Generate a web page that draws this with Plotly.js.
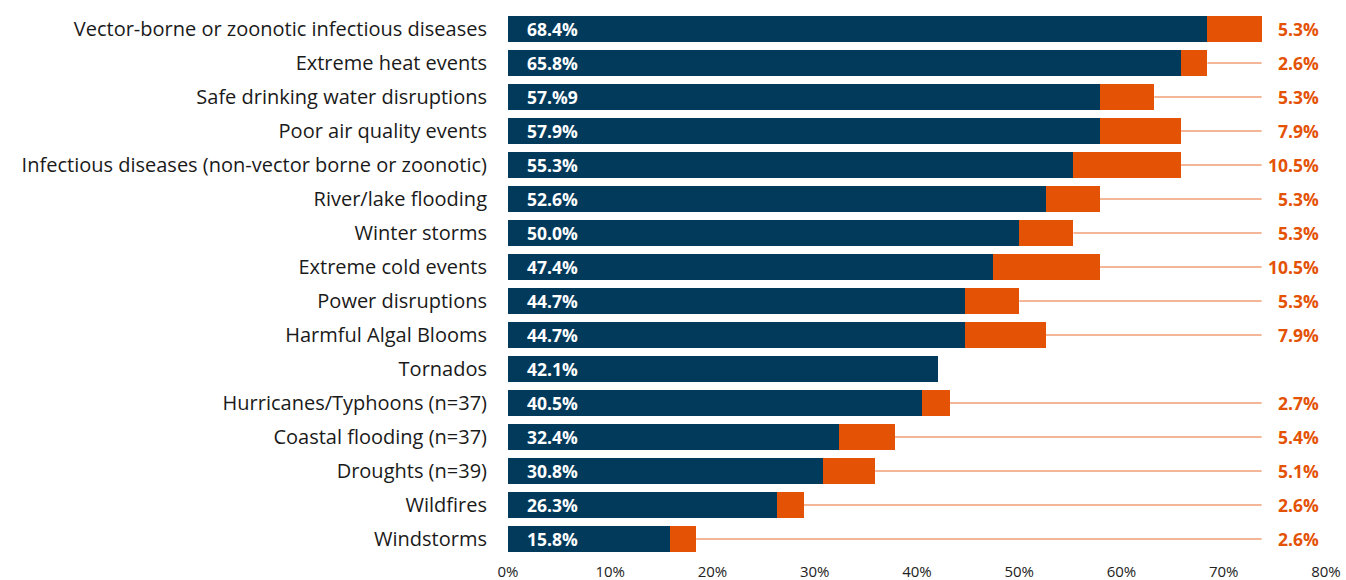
<!DOCTYPE html>
<html>
<head>
<meta charset="utf-8">
<script src="https://cdn.plot.ly/plotly-3.0.1.min.js"></script>
<style>html,body{margin:0;padding:0;background:#fff;}#chart{width:1346px;height:580px;}</style>
</head>
<body>
<div id="chart"></div>
<script>
const categories = [
  "Vector-borne or zoonotic infectious diseases",
  "Extreme heat events",
  "Safe drinking water disruptions",
  "Poor air quality events",
  "Infectious diseases (non-vector borne or zoonotic)",
  "River/lake flooding",
  "Winter storms",
  "Extreme cold events",
  "Power disruptions",
  "Harmful Algal Blooms",
  "Tornados",
  "Hurricanes/Typhoons (n=37)",
  "Coastal flooding (n=37)",
  "Droughts (n=39)",
  "Wildfires",
  "Windstorms"
];
const navyValues = [68.4, 65.8, 57.9, 57.9, 55.3, 52.6, 50.0, 47.4, 44.7, 44.7, 42.1, 40.5, 32.4, 30.8, 26.3, 15.8];
const navyLabels = ["68.4%", "65.8%", "57.%9", "57.9%", "55.3%", "52.6%", "50.0%", "47.4%", "44.7%", "44.7%", "42.1%", "40.5%", "32.4%", "30.8%", "26.3%", "15.8%"];
const orangeValues = [5.3, 2.6, 5.3, 7.9, 10.5, 5.3, 5.3, 10.5, 5.3, 7.9, 0, 2.7, 5.4, 5.1, 2.6, 2.6];
const orangeLabels = ["5.3%", "2.6%", "5.3%", "7.9%", "10.5%", "5.3%", "5.3%", "10.5%", "5.3%", "7.9%", "", "2.7%", "5.4%", "5.1%", "2.6%", "2.6%"];
const xTickValues = [0, 10, 20, 30, 40, 50, 60, 70, 80];
const xTickLabels = ["0%", "10%", "20%", "30%", "40%", "50%", "60%", "70%", "80%"];

const NAVY = "#023a5c";
const ORANGE = "#e35205";
const FONT = "Open Sans, sans-serif";

const totals = navyValues.map((v, i) => v + orangeValues[i]);
const lineEnd = Math.max(...totals);

const traces = [
  {type: "bar", orientation: "h", y: categories, x: navyValues, marker: {color: NAVY}, hoverinfo: "skip", width: 0.74},
  {type: "bar", orientation: "h", y: categories, x: orangeValues, marker: {color: ORANGE}, hoverinfo: "skip", width: 0.74}
];

const shapes = [];
const annotations = [];
categories.forEach((c, i) => {
  annotations.push({
    x: 0, y: c, xref: "x", yref: "y", text: navyLabels[i], showarrow: false,
    xanchor: "left", xshift: 17, font: {family: FONT, size: 17.5, color: "#ffffff", weight: "bold"}
  });
  if (orangeValues[i] > 0) {
    if (totals[i] < lineEnd) {
      shapes.push({type: "line", xref: "x", yref: "y", x0: totals[i], x1: lineEnd, y0: c, y1: c,
        line: {color: "rgba(227,82,5,0.55)", width: 1.5}, layer: "below"});
    }
    annotations.push({
      x: 0.99, y: c, xref: "paper", yref: "y", text: orangeLabels[i], showarrow: false,
      xanchor: "right", xshift: 3, font: {family: FONT, size: 17.5, color: ORANGE, weight: "bold"}
    });
  }
});

const layout = {
  width: 1346, height: 580,
  margin: {l: 508, r: 20, t: 12, b: 24},
  paper_bgcolor: "#fff", plot_bgcolor: "#fff",
  barmode: "stack", showlegend: false,
  font: {family: FONT, color: "#222"},
  xaxis: {range: [0, 80], tickvals: xTickValues, ticktext: xTickLabels, showgrid: false, zeroline: false,
    showline: false, ticks: "outside", ticklen: 2, tickcolor: "rgba(0,0,0,0)", tickfont: {size: 15, color: "#222"}, fixedrange: true},
  yaxis: {autorange: "reversed", showgrid: false, zeroline: false, showline: false,
    ticks: "outside", ticklen: 16, tickcolor: "rgba(0,0,0,0)", tickfont: {size: 20, color: "#1a1a1a"}, fixedrange: true},
  shapes: shapes,
  annotations: annotations
};

Plotly.newPlot("chart", traces, layout, {displayModeBar: false, staticPlot: true});
</script>
</body>
</html>
